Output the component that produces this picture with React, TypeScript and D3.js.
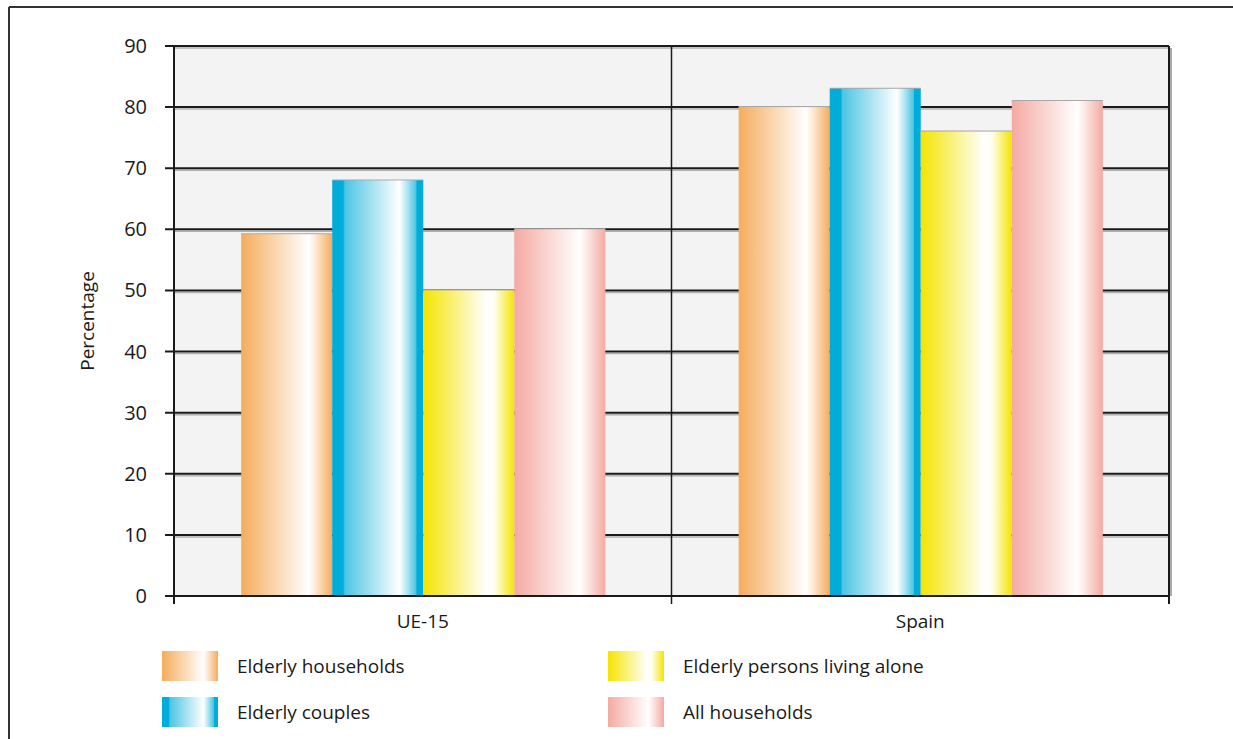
import React from "react";
import * as d3 from "d3";

const categories = ["UE-15", "Spain"];
const seriesNames = ["Elderly households", "Elderly couples", "Elderly persons living alone", "All households"];
const elderlyHouseholds = [59.2, 80];
const elderlyCouples = [68, 83];
const elderlyAlone = [50, 76];
const allHouseholds = [60, 81];
const yTicks = [0, 10, 20, 30, 40, 50, 60, 70, 80, 90];

const seriesValues = [elderlyHouseholds, elderlyCouples, elderlyAlone, allHouseholds];
const gradients = [
  { id: "gOrange", c: "#f5ac5c", stops: [[0, 1], [0.74, 0], [0.8, 0.2], [1, 1]] },
  { id: "gBlue", c: "#00acd9", stops: [[0, 1], [0.12, 1], [0.14, 0.7], [0.74, 0], [0.82, 0.3], [0.92, 0.7], [0.93, 1], [1, 1]] },
  { id: "gYellow", c: "#f5e400", stops: [[0, 1], [0.7, 0], [0.78, 0.05], [1, 1]] },
  { id: "gPink", c: "#f4aaa2", stops: [[0, 1], [0.72, 0], [0.78, 0.2], [1, 1]] },
];

const W = 1233, H = 739;
const left = 174, right = 1169, top = 46, bottom = 596;
const FONT = "'Open Sans', 'DejaVu Sans', sans-serif";

export default function App() {
  const x = d3.scaleBand<string>().domain(categories).range([left, right]).paddingInner(0).paddingOuter(0);
  const y = d3.scaleLinear().domain([0, 90]).range([bottom, top]);
  const inner = d3.scaleBand<number>().domain([0, 1, 2, 3]).range([0, x.bandwidth() * 0.732]);
  const off = (x.bandwidth() - x.bandwidth() * 0.732) / 2 + 0.5;

  const mix = (c: string, t: number) => d3.interpolateRgb("#ffffff", c)(t);

  return (
    <svg width={W} height={H} style={{ position: "absolute", left: 0, top: 0, fontFamily: FONT }}>
      <defs>
        {gradients.map((g) => (
          <linearGradient key={g.id} id={g.id} x1="0" x2="1" y1="0" y2="0">
            {g.stops.map(([o, t], i) => (
              <stop key={i} offset={o} stopColor={mix(g.c, t)} />
            ))}
          </linearGradient>
        ))}
      </defs>
      <rect x={0} y={0} width={W} height={H} fill="#ffffff" />
      {/* outer frame */}
      <line x1={9} x2={W} y1={7} y2={7} stroke="#333" strokeWidth={2} />
      <line x1={9} x2={9} y1={7} y2={H} stroke="#333" strokeWidth={2} />

      {/* plot background */}
      <rect x={left} y={top} width={right - left} height={bottom - top} fill="#f3f3f3" />
      {/* right shadow */}
      <line x1={right + 2} x2={right + 2} y1={top + 2} y2={bottom} stroke="#aaa" strokeWidth={2} />
      {/* gridlines */}
      {yTicks.map((t) => (
        <g key={t}>
          {t > 0 && <line x1={left} x2={right} y1={y(t) + 2} y2={y(t) + 2} stroke="#b0b0b0" strokeWidth={1.5} />}
          <line x1={left - 9} x2={right} y1={y(t)} y2={y(t)} stroke="#1a1a1a" strokeWidth={2} />
          <text x={147} y={y(t)} dy="0.35em" textAnchor="end" fontSize={20} fill="#1a1a1a">{t}</text>
        </g>
      ))}
      {/* category divider */}
      <line x1={x("Spain")!} x2={x("Spain")!} y1={top} y2={bottom + 8} stroke="#1a1a1a" strokeWidth={1.5} />
      <line x1={right} x2={right} y1={top} y2={bottom + 8} stroke="#1a1a1a" strokeWidth={2} />
      <line x1={left} x2={left} y1={top} y2={bottom + 8} stroke="#1a1a1a" strokeWidth={2} />

      {/* bars */}
      {categories.map((c, ci) =>
        seriesValues.map((vals, si) => {
          const bx = x(c)! + off + inner(si)!;
          const by = y(vals[ci]);
          return (
            <g key={`${ci}-${si}`}>
              <line x1={bx} x2={bx + inner.bandwidth()} y1={by} y2={by} stroke="#a8a8a8" strokeWidth={2} />
              <rect x={bx} y={by} width={inner.bandwidth()} height={bottom - by} fill={`url(#${gradients[si].id})`} />
            </g>
          );
        })
      )}
      {/* baseline */}
      <line x1={left} x2={right} y1={bottom} y2={bottom} stroke="#1a1a1a" strokeWidth={2} />

      {/* category labels */}
      {categories.map((c) => (
        <text key={c} x={x(c)! + x.bandwidth() / 2} y={628} textAnchor="middle" fontSize={19} fill="#1a1a1a">{c}</text>
      ))}

      {/* y label */}
      <text transform={`translate(94,${(top + bottom) / 2}) rotate(-90)`} textAnchor="middle" fontSize={19} fill="#1a1a1a">Percentage</text>

      {/* legend */}
      {seriesNames.map((n, i) => {
        const col = i === 0 || i === 1 ? 0 : 1;
        const row = i === 0 || i === 2 ? 0 : 1;
        const sx = col === 0 ? 162 : 608;
        const sy = row === 0 ? 651 : 697;
        return (
          <g key={n}>
            <rect x={sx} y={sy} width={56} height={30} fill={`url(#${gradients[i].id})`} />
            <text x={sx + 75} y={sy + 15} dy="0.35em" fontSize={19} fill="#1a1a1a">{n}</text>
          </g>
        );
      })}
    </svg>
  );
}
